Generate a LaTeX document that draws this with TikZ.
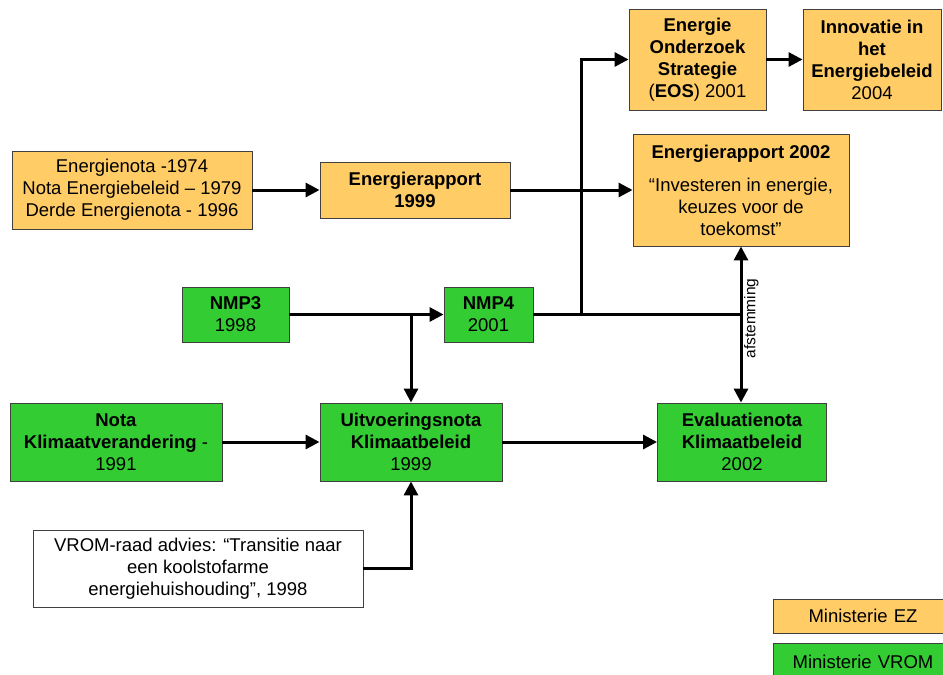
\documentclass[tikz,border=0pt]{standalone}
\usepackage{fontspec}
\setmainfont{Liberation Sans}
\usetikzlibrary{arrows.meta,calc}
\definecolor{ezorange}{RGB}{255,204,102}
\definecolor{vromgreen}{RGB}{51,204,51}
\definecolor{boxline}{RGB}{64,64,64}
\tikzset{
  box/.style={draw=boxline, line width=0.9pt, inner sep=0pt, align=center,
    font=\fontsize{18.5}{22}\selectfont},
  ez/.style={box, fill=ezorange},
  vrom/.style={box, fill=vromgreen},
  plain/.style={box, fill=white},
  link/.style={line width=3pt, black},
  arr/.style={link, -{Triangle[length=14pt,width=14pt]}},
  darr/.style={link, {Triangle[length=14pt,width=14pt]}-{Triangle[length=14pt,width=14pt]}},
}
\begin{document}
\begin{tikzpicture}[x=1pt,y=-1pt]
\useasboundingbox (0,0) rectangle (943,675);
\clip (0,0) rectangle (943,675);

% Ministerie EZ
\node[ez, minimum width=240pt, minimum height=78pt] (ez1) at (132,190)
  {Energienota -1974\\Nota Energiebeleid – 1979\\Derde Energienota - 1996};
\node[ez, minimum width=190pt, minimum height=56pt] (er99) at (415,190)
  {\textbf{Energierapport}\\\textbf{1999}};
\node[ez, minimum width=137pt, minimum height=101pt] (eos) at (697.5,59.5)
  {\textbf{Energie}\\\textbf{Onderzoek}\\\textbf{Strategie}\\(\textbf{EOS}) 2001};
\node[ez, minimum width=138pt, minimum height=101pt] (inno) at (872,59.5)
  {\textbf{Innovatie in}\\\textbf{het}\\\textbf{Energiebeleid}\\2004};
\node[ez, minimum width=216pt, minimum height=112pt] (er02) at (741,190)
  {\textbf{Energierapport 2002}\\[11pt]“Investeren in energie,\\keuzes voor de\\toekomst”};

% Ministerie VROM
\node[vrom, minimum width=107pt, minimum height=55pt] (nmp3) at (235.5,314.5)
  {\textbf{NMP3}\\1998};
\node[vrom, minimum width=89pt, minimum height=55pt] (nmp4) at (488.5,314.5)
  {\textbf{NMP4}\\2001};
\node[vrom, minimum width=212pt, minimum height=78pt] (nkv) at (116,442)
  {\textbf{Nota}\\\textbf{Klimaatverandering} -\\1991};
\node[vrom, minimum width=182pt, minimum height=78pt] (uitv) at (411,442)
  {\textbf{Uitvoeringsnota}\\\textbf{Klimaatbeleid}\\1999};
\node[vrom, minimum width=169pt, minimum height=78pt] (eval) at (742,442)
  {\textbf{Evaluatienota}\\\textbf{Klimaatbeleid}\\2002};

% advice
\node[plain, minimum width=330pt, minimum height=77pt] (advies) at (198,568.5)
  {VROM-raad advies: “Transitie naar\\een koolstofarme\\energiehuishouding”, 1998};

% legend
\node[ez, minimum width=190pt, minimum height=34pt, text width=180pt] (legez) at (868,616)
  {\hspace*{-10pt}Ministerie EZ};
\node[vrom, minimum width=190pt, minimum height=40pt, text width=180pt] (legvrom) at (868,663)
  {\raisebox{3pt}{\hspace*{-10pt}Ministerie VROM}};

% junction points
\coordinate (jdown) at (uitv.north |- nmp3.east);
\coordinate (jup) at (581,314.5);
\coordinate (jend) at (er02.south |- nmp4.east);

% connectors
\draw[arr] (ez1) -- (er99);
\draw[arr] (er99) -- (er02);
\draw[arr] (eos) -- (inno);
\draw[arr] (nmp3) -- (nmp4);
\draw[arr] (jdown) -- (uitv.north);
\draw[link] (nmp4.east) -- (jend);
\draw[arr] (jup) |- (eos.west);
\draw[darr] (er02.south) -- (er02.south |- eval.north);
\draw[arr] (nkv) -- (uitv);
\draw[arr] (uitv) -- (eval);
\draw[arr] (advies.east) -| (uitv.south);

% label on the coordination link
\node[rotate=90, anchor=north, inner sep=0pt, font=\fontsize{15.5}{18}\selectfont] (afst)
  at ($(jend)+(3,4)$) {afstemming};
\end{tikzpicture}
\end{document}
